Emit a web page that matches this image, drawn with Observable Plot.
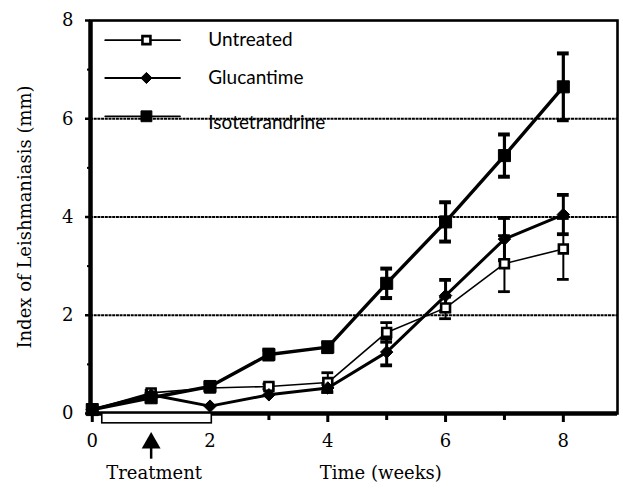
<!DOCTYPE html>
<html>
<head>
<meta charset="utf-8">
<script src="https://cdn.jsdelivr.net/npm/d3@7"></script>
<script src="https://cdn.jsdelivr.net/npm/@observablehq/plot@0.6"></script>
<style>
  html, body { margin: 0; padding: 0; background: #fff; }
  #chart { width: 623px; height: 488px; }
</style>
</head>
<body>
<div id="chart"></div>
<script>
const weeks = [0, 1, 2, 3, 4, 5, 6, 7, 8];
const seriesNames = ["Untreated", "Glucantime", "Isotetrandrine"];
const untreated = [0.08, 0.42, 0.52, 0.55, 0.63, 1.65, 2.15, 3.05, 3.35];
const untreatedErr = [0, 0.05, 0, 0.05, 0.2, 0.2, 0.22, 0.57, 0.62];
const glucantime = [0.08, 0.38, 0.15, 0.38, 0.52, 1.25, 2.4, 3.55, 4.05];
const glucantimeErr = [0, 0, 0, 0, 0.08, 0.27, 0.32, 0.43, 0.4];
const isotetrandrine = [0.08, 0.32, 0.55, 1.2, 1.35, 2.65, 3.9, 5.25, 6.65];
const isotetrandrineErr = [0, 0.07, 0.07, 0.1, 0.1, 0.3, 0.4, 0.43, 0.68];
const yTicks = [0, 2, 4, 6, 8];
const yMinorTicks = [1, 3, 5, 7];
const xTicks = [0, 2, 4, 6, 8];
const xMinorTicks = [1, 3, 5, 7];
const gridValues = [2, 4, 6];
const treatmentWindow = [0.17, 2.03];
const treatmentArrowWeek = 1;
const xLabel = "Time (weeks)";
const yLabel = "Index of Leishmaniasis (mm)";
const treatmentLabel = "Treatment";

const values = [untreated, glucantime, isotetrandrine];
const errs = [untreatedErr, glucantimeErr, isotetrandrineErr];
const rows = [];
seriesNames.forEach((s, i) => weeks.forEach((w, j) => rows.push({series: s, week: w, value: values[i][j], err: errs[i][j]})));
const bySeries = s => rows.filter(d => d.series === s);

const style = {
  Untreated: {lw: 1.6, ew: 2, sym: "square", fill: "white", stroke: "black", r: 5, sw: 2.6},
  Glucantime: {lw: 3, ew: 3, sym: "diamond2", fill: "black", stroke: "black", r: 5.6, sw: 1},
  Isotetrandrine: {lw: 3.4, ew: 3.2, sym: "square", fill: "black", stroke: "black", r: 6.8, sw: 1}
};

const xmin = -0.03, xmax = 8.92;
const serif = "'DejaVu Serif', serif";
const sans = "Lato, 'Open Sans', sans-serif";

const marks = [];
marks.push(Plot.ruleY(gridValues, {y: d => d, stroke: "#000", strokeWidth: 2.2, strokeDasharray: "3,0.7"}));
marks.push(Plot.frame({stroke: "black", strokeWidth: 2.6}));
marks.push(Plot.ruleX([xmin], {x: d => d, y1: 0, y2: 8, stroke: "black", strokeWidth: 4.5}));
marks.push(Plot.ruleY([0], {y: d => d, x1: xmin, x2: xmax, stroke: "black", strokeWidth: 4.5}));

// axes
marks.push(Plot.axisY({ticks: yTicks, tickSize: 5, tickPadding: 12, strokeWidth: 2.5, fontSize: 18, label: yLabel, labelAnchor: "center", labelOffset: 72, labelArrow: "none"}));
marks.push(Plot.axisY({ticks: yMinorTicks, tickSize: 3, text: null, strokeWidth: 2, label: null}));
marks.push(Plot.axisX({ticks: xTicks, tickSize: 9, tickPadding: 12, strokeWidth: 3, fontSize: 18, label: null}));
marks.push(Plot.axisX({ticks: xMinorTicks, tickSize: 7, text: null, strokeWidth: 3, label: null}));

// error bars, lines, markers
for (const s of seriesNames) {
  const st = style[s];
  const data = bySeries(s).filter(d => d.err > 0);
  marks.push(Plot.ruleX(data, {x: "week", y1: d => d.value - d.err, y2: d => d.value + d.err, stroke: "black", strokeWidth: st.ew}));
  marks.push(Plot.ruleY(data, {y: d => d.value - d.err, x1: d => d.week - 0.1, x2: d => d.week + 0.1, stroke: "black", strokeWidth: st.ew + 0.8}));
  marks.push(Plot.ruleY(data, {y: d => d.value + d.err, x1: d => d.week - 0.1, x2: d => d.week + 0.1, stroke: "black", strokeWidth: st.ew + 0.8}));
}
for (const s of seriesNames) {
  const st = style[s];
  marks.push(Plot.line(bySeries(s), {x: "week", y: "value", stroke: "black", strokeWidth: st.lw}));
}
for (const s of seriesNames) {
  const st = style[s];
  marks.push(Plot.dot(bySeries(s), {x: "week", y: "value", symbol: st.sym, r: st.r, fill: st.fill, stroke: st.stroke, strokeWidth: st.sw}));
}

// legend (inside plot)
const legendY = [7.6, 6.83, 6.05];
seriesNames.forEach((s, i) => {
  const st = style[s];
  marks.push(Plot.line([[0.22, legendY[i]], [1.49, legendY[i]]], {stroke: "black", strokeWidth: 1.8}));
  marks.push(Plot.dot([[0.92, legendY[i]]], {symbol: st.sym, r: st.r * 0.9, fill: st.fill, stroke: st.stroke, strokeWidth: st.sw}));
  marks.push(Plot.text([s], {x: 1.97, y: legendY[i], text: d => d, textAnchor: "start", fontSize: 19, fontFamily: sans, dy: i === 2 ? 7 : 0, fill: "black"}));
});

// treatment annotation
marks.push(Plot.rect([treatmentWindow], {x1: d => d[0], x2: d => d[1], y1: 0, y2: -0.2, fill: "white", stroke: "black", strokeWidth: 1.6}));
marks.push(Plot.ruleX([treatmentArrowWeek], {x: d => d, y1: -0.55, y2: -0.93, stroke: "black", strokeWidth: 2.5}));
marks.push(Plot.dot([treatmentArrowWeek], {x: d => d, y: -0.6, symbol: "triangle", r: 7, fill: "black"}));
marks.push(Plot.text([treatmentLabel], {x: 1.05, y: -1.22, text: d => d, fontSize: 18, fontFamily: serif, fill: "black"}));
marks.push(Plot.text([xLabel], {x: 4.9, y: -1.22, text: d => d, fontSize: 18, fontFamily: serif, fill: "black"}));

const chart = Plot.plot({
  width: 623,
  height: 488,
  marginLeft: 90,
  marginRight: 6,
  marginTop: 20,
  marginBottom: 75,
  style: {fontFamily: serif, fontSize: "18px", color: "black", background: "white", overflow: "visible"},
  x: {domain: [xmin, xmax]},
  y: {domain: [0, 8]},
  marks
});
document.getElementById("chart").appendChild(chart);
</script>
</body>
</html>
